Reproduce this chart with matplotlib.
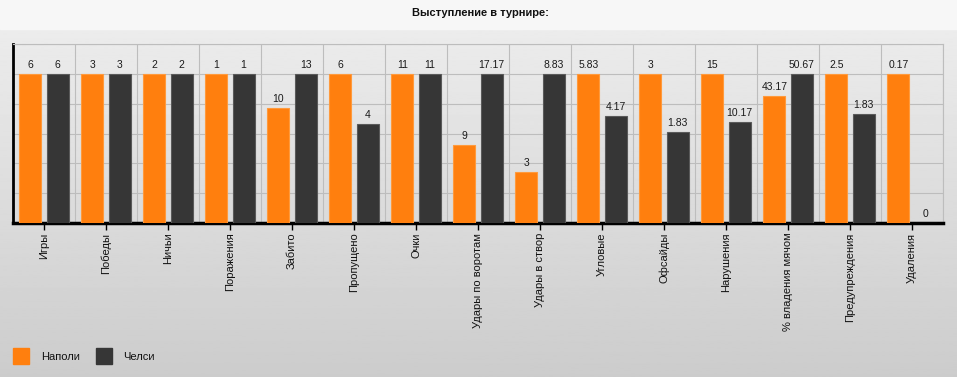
import matplotlib
import numpy as np

matplotlib.use("Agg")
import matplotlib.pyplot as plt
from matplotlib.patches import Rectangle

plt.rcParams["font.family"] = ["Liberation Sans", "DejaVu Sans"]

categories = [
    "Игры", "Победы", "Ничьи", "Поражения", "Забито", "Пропущено", "Очки",
    "Удары по воротам", "Удары в створ", "Угловые", "Офсайды", "Нарушения",
    "% владения мячом", "Предупреждения", "Удаления",
]
napoli = [6, 3, 2, 1, 10, 6, 11, 9, 3, 5.83, 3, 15, 43.17, 2.5, 0.17]
chelsea = [6, 3, 2, 1, 13, 4, 11, 17.17, 8.83, 4.17, 1.83, 10.17, 50.67, 1.83, 0]
team_names = ["Наполи", "Челси"]
title = "Выступление в турнире:"

ORANGE = "#ff7f0e"
DARK = "#363636"
W, H = 957, 377


def fmt(v):
    return f"{v:g}"


def main():
    fig = plt.figure(figsize=(W / 100, H / 100), dpi=100)

    # background: light title band + vertical gradient
    bg = fig.add_axes([0, 0, 1, 1])
    bg.set_axis_off()
    grad = np.linspace(0.80, 0.925, 256).reshape(-1, 1)
    bg.imshow(grad, cmap="gray", vmin=0, vmax=1, aspect="auto",
              extent=[0, W, 0, H - 29], origin="lower")
    bg.add_patch(Rectangle((0, H - 29), W, 29, color="#f7f7f7", zorder=2))
    bg.set_xlim(0, W)
    bg.set_ylim(0, H)
    fig.text(480 / W, 1 - 13 / H, title, ha="center", va="center",
             fontsize=8, fontweight="bold", color="#111111")

    a = np.array(napoli, dtype=float)
    b = np.array(chelsea, dtype=float)
    top = np.maximum(a, b)
    top[top == 0] = 1
    ha_ = a / top * 100
    hb_ = b / top * 100

    ax = fig.add_axes([13 / W, 1 - 223 / H, 930 / W, 179 / H])
    ax.patch.set_alpha(0)
    x = np.arange(len(categories))
    bw = 0.355
    ax.bar(x - 0.22, ha_, bw, color=ORANGE, edgecolor="#ff9a3c", linewidth=0.8, zorder=3)
    ax.bar(x + 0.22, hb_, bw, color=DARK, edgecolor="#5a5a5a", linewidth=0.8, zorder=3)

    for xi, h, v in zip(x - 0.22, ha_, a):
        ax.annotate(fmt(v), (xi, h), xytext=(0, 6.5), textcoords="offset points",
                    ha="center", va="center", fontsize=7.5, color="#1a1a1a", zorder=4)
    for xi, h, v in zip(x + 0.22, hb_, b):
        ax.annotate(fmt(v), (xi, h), xytext=(0, 6.5), textcoords="offset points",
                    ha="center", va="center", fontsize=7.5, color="#1a1a1a", zorder=4)

    ax.set_xlim(-0.5, len(categories) - 0.5)
    ax.set_ylim(0, 120)
    ax.set_yticks(np.arange(0, 121, 20))
    ax.set_yticklabels([])
    ax.tick_params(axis="y", length=0)
    ax.set_xticks(x)
    ax.set_xticklabels(categories, rotation=90, fontsize=8, color="#111111")
    ax.tick_params(axis="x", length=5, width=1, color="black", pad=2)
    ax.set_xticks(np.arange(-0.5, len(categories), 1), minor=True)
    ax.tick_params(axis="x", which="minor", length=0)
    ax.grid(True, which="major", axis="y", color="#bdbdbd", linewidth=0.8, zorder=0)
    ax.grid(True, which="minor", axis="x", color="#bdbdbd", linewidth=0.8, zorder=0)

    ax.spines["left"].set_color("black")
    ax.spines["left"].set_linewidth(2)
    ax.spines["bottom"].set_color("black")
    ax.spines["bottom"].set_linewidth(2.5)
    ax.spines["top"].set_color("#bdbdbd")
    ax.spines["top"].set_linewidth(0.8)
    ax.spines["right"].set_color("#bdbdbd")
    ax.spines["right"].set_linewidth(0.8)

    # legend
    for (lx, tx), name, col in zip([(13, 41), (96, 123)], team_names, [ORANGE, DARK]):
        bg.add_patch(Rectangle((lx, H - 364), 16, 16, color=col, zorder=3))
        bg.text(tx, H - 357, name, ha="left", va="center", fontsize=8, color="#111111", zorder=3)

    fig.savefig("out.png", dpi=100)
    plt.close(fig)


if __name__ == "__main__":
    main()
